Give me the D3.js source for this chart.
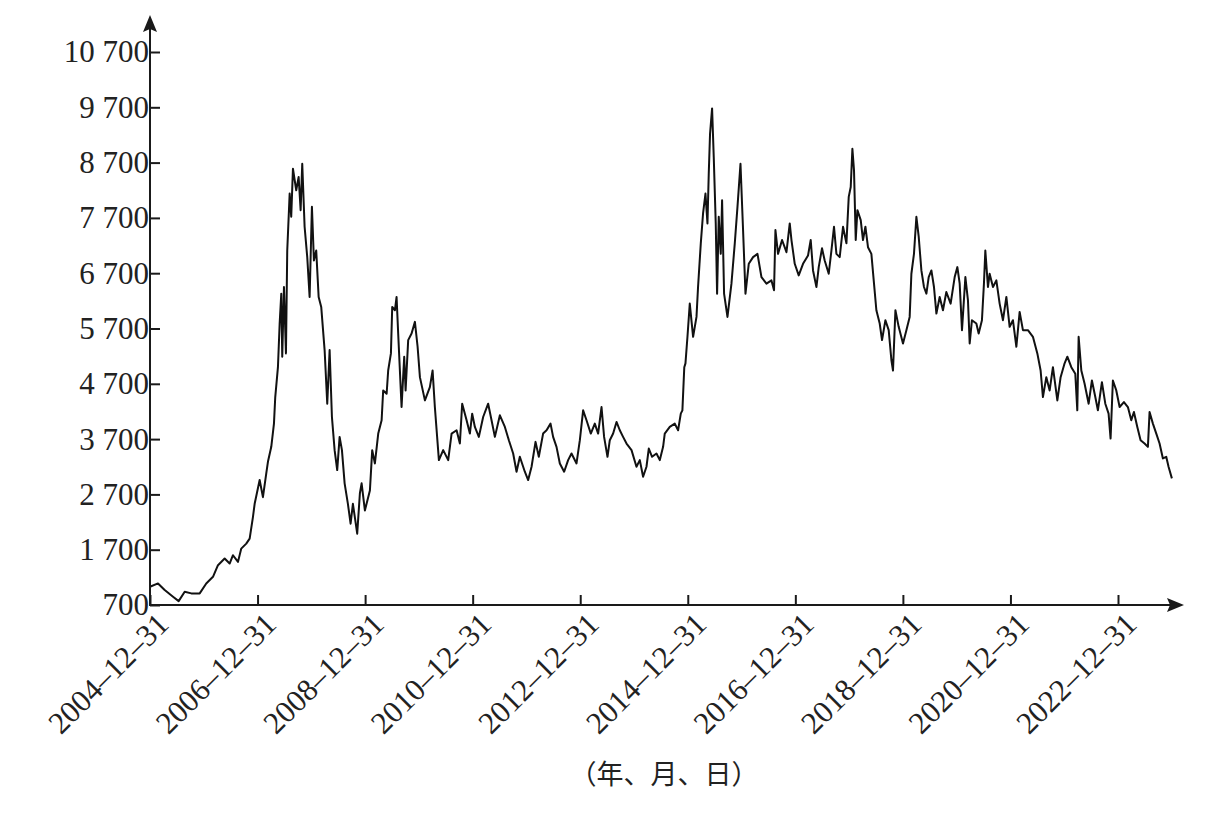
<html>
<script src='https://d3js.org/d3.v7.min.js'></script>
<style>
body {margin: 0; background: #fff;}
text {font-family: 'Liberation Serif', 'DejaVu Serif', serif; fill: #222;}
.title {font-family: 'Noto Sans CJK SC', sans-serif;}
</style>
<body onload='init()'>
<svg width=1212 height=814></svg>
<script>
// dates as decimal years
const dates = [
  2005.000,2005.149,2005.273,2005.428,2005.533,2005.645,2005.768,2005.924,2006.046,2006.171,
  2006.264,2006.388,2006.481,2006.543,2006.636,2006.697,2006.790,2006.853,2006.914,2006.946,
  2007.039,2007.100,2007.162,2007.193,2007.255,2007.305,2007.329,2007.379,2007.411,2007.441,
  2007.459,2007.491,2007.528,2007.552,2007.597,2007.626,2007.658,2007.719,2007.764,2007.801,
  2007.831,2007.875,2007.924,2007.968,2008.011,2008.048,2008.091,2008.136,2008.184,2008.247,
  2008.296,2008.340,2008.383,2008.433,2008.481,2008.526,2008.569,2008.619,2008.680,2008.730,
  2008.773,2008.853,2008.903,2008.935,2008.996,2009.089,2009.132,2009.182,2009.244,2009.307,
  2009.336,2009.400,2009.429,2009.480,2009.504,2009.554,2009.585,2009.615,2009.678,2009.727,
  2009.753,2009.801,2009.864,2009.926,2009.976,2010.019,2010.112,2010.204,2010.255,2010.297,
  2010.372,2010.452,2010.545,2010.608,2010.701,2010.762,2010.805,2010.887,2010.948,2010.991,
  2011.041,2011.115,2011.195,2011.288,2011.351,2011.413,2011.506,2011.599,2011.673,2011.753,
  2011.816,2011.877,2011.970,2012.032,2012.095,2012.169,2012.230,2012.310,2012.374,2012.448,
  2012.496,2012.559,2012.621,2012.701,2012.775,2012.838,2012.931,2012.993,2013.054,2013.117,
  2013.197,2013.271,2013.333,2013.396,2013.444,2013.507,2013.550,2013.612,2013.675,2013.736,
  2013.797,2013.861,2013.954,2014.046,2014.108,2014.169,2014.232,2014.275,2014.336,2014.418,
  2014.480,2014.541,2014.572,2014.665,2014.758,2014.820,2014.870,2014.900,2014.935,2014.957,
  2014.994,2015.037,2015.099,2015.162,2015.191,2015.242,2015.284,2015.329,2015.366,2015.390,
  2015.414,2015.452,2015.483,2015.520,2015.545,2015.576,2015.613,2015.638,2015.675,2015.738,
  2015.812,2015.874,2015.924,2015.980,2016.028,2016.073,2016.134,2016.214,2016.296,2016.370,
  2016.463,2016.556,2016.604,2016.630,2016.678,2016.753,2016.835,2016.896,2016.928,2016.989,
  2017.063,2017.143,2017.236,2017.286,2017.329,2017.392,2017.435,2017.496,2017.546,2017.621,
  2017.671,2017.719,2017.764,2017.825,2017.887,2017.950,2017.993,2018.030,2018.061,2018.091,
  2018.123,2018.154,2018.216,2018.258,2018.303,2018.351,2018.414,2018.463,2018.507,2018.569,
  2018.612,2018.675,2018.736,2018.786,2018.816,2018.861,2018.922,2019.002,2019.065,2019.126,
  2019.158,2019.206,2019.251,2019.294,2019.344,2019.392,2019.437,2019.480,2019.530,2019.578,
  2019.623,2019.684,2019.745,2019.808,2019.888,2019.963,2020.013,2020.056,2020.099,2020.162,
  2020.210,2020.242,2020.284,2020.366,2020.409,2020.470,2020.507,2020.533,2020.582,2020.613,
  2020.675,2020.738,2020.799,2020.861,2020.924,2020.985,2021.046,2021.110,2021.171,2021.232,
  2021.325,2021.418,2021.500,2021.561,2021.604,2021.667,2021.729,2021.790,2021.872,2021.933,
  2022.007,2022.058,2022.132,2022.206,2022.243,2022.268,2022.318,2022.379,2022.454,2022.515,
  2022.578,2022.626,2022.701,2022.764,2022.825,2022.862,2022.905,2022.968,2023.030,2023.110,
  2023.184,2023.247,2023.296,2023.359,2023.420,2023.494,2023.556,2023.587,2023.649,2023.712,
  2023.773,2023.835,2023.897,2023.940,2024.002
];
const values = [
  1030,1090,970,850,770,940,910,910,1090,1210,
  1420,1540,1450,1600,1480,1720,1810,1900,2290,2530,
  2960,2650,3080,3290,3560,3980,4460,5000,5790,6330,
  5190,6450,5250,7110,8140,7720,8590,8200,8440,7840,
  8680,7540,6990,6270,7900,6930,7110,6270,6090,5310,
  4340,5310,4100,3500,3140,3740,3500,2900,2530,2170,
  2530,1990,2720,2900,2410,2770,3500,3260,3800,4040,
  4580,4520,4940,5250,6090,6030,6270,5610,4280,5190,
  4580,5490,5610,5820,5370,4820,4400,4640,4940,4280,
  3320,3500,3320,3800,3860,3620,4340,4040,3800,4160,
  3920,3740,4100,4340,4040,3740,4130,3920,3680,3440,
  3110,3380,3110,2960,3200,3650,3380,3800,3860,3980,
  3740,3560,3260,3110,3320,3440,3260,3680,4220,4040,
  3800,3980,3800,4280,3740,3380,3680,3800,4010,3860,
  3740,3620,3500,3200,3320,3020,3200,3530,3380,3440,
  3320,3560,3800,3920,3980,3860,4160,4220,5000,5070,
  5550,6150,5550,5910,6450,7240,7780,8140,7600,8500,
  9220,9680,8800,7600,6330,7720,7050,8020,6330,5910,
  6510,7240,7900,8680,7480,6330,6870,6990,7050,6630,
  6510,6570,6390,7480,7050,7300,7080,7600,7300,6870,
  6660,6870,7020,7300,6750,6450,6810,7150,6930,6690,
  7110,7540,7050,6990,7540,7240,8080,8260,8950,8560,
  7300,7840,7660,7300,7540,7170,7050,6510,6030,5790,
  5490,5850,5670,5130,4940,6030,5730,5430,5670,5910,
  6690,7050,7720,7360,6750,6450,6330,6630,6750,6450,
  5970,6270,6030,6360,6150,6630,6810,6510,5670,6630,
  6210,5430,5850,5790,5610,5850,6510,7110,6450,6690,
  6450,6570,6150,5850,6270,5730,5850,5370,6000,5670,
  5670,5550,5250,4940,4460,4820,4580,5000,4400,4820,
  5070,5190,5000,4880,4220,5550,4940,4700,4340,4760,
  4460,4220,4730,4340,4160,3710,4760,4580,4280,4370,
  4280,4040,4190,3920,3680,3620,3560,4190,3980,3800,
  3620,3350,3380,3200,2990
];
const yTicks = [700, 1700, 2700, 3700, 4700, 5700, 6700, 7700, 8700, 9700, 10700];
const xTickYears = [2005, 2007, 2009, 2011, 2013, 2015, 2017, 2019, 2021, 2023];
const xTickLabels = ['2004–12–31', '2006–12–31', '2008–12–31', '2010–12–31', '2012–12–31',
                     '2014–12–31', '2016–12–31', '2018–12–31', '2020–12–31', '2022–12–31'];
const xTitle = '（年、月、日）';

function init() {
    const svg = d3.select('svg');
    const x = d3.scaleLinear().domain([2005, 2023]).range([150, 1118]);
    const y = d3.scaleLinear().domain([700, 10700]).range([605, 52]);
    const ink = '#1a1a1a';

    // price line
    const line = d3.line()
        .x((d, i) => x(dates[i]))
        .y(d => y(d));
    svg.append('path')
        .datum(values)
        .attr('d', line)
        .attr('fill', 'none')
        .attr('stroke', '#111')
        .attr('stroke-width', 2)
        .attr('stroke-linejoin', 'round');

    // y axis
    const gy = svg.append('g')
        .attr('transform', 'translate(150,0)')
        .call(d3.axisLeft(y).tickValues(yTicks)
            .tickFormat(d => d3.format(',')(d).replace(',', ' '))
            .tickSizeInner(-10).tickSizeOuter(0).tickPadding(1));
    gy.select('.domain').remove();
    gy.selectAll('line').attr('stroke', ink).attr('stroke-width', 2);
    gy.selectAll('text').attr('font-size', 31).attr('font-family', "'Liberation Serif', serif")
        .attr('fill', ink);

    // x axis
    const gx = svg.append('g')
        .attr('transform', 'translate(0,605)')
        .call(d3.axisBottom(x).tickValues(xTickYears)
            .tickFormat((d, i) => xTickLabels[i])
            .tickSizeInner(-10).tickSizeOuter(0));
    gx.select('.domain').remove();
    gx.selectAll('line').attr('stroke', ink).attr('stroke-width', 2);
    gx.selectAll('text')
        .attr('x', 0).attr('y', 0).attr('dy', 0)
        .attr('transform', 'translate(20,21) rotate(-45)')
        .attr('text-anchor', 'end')
        .attr('font-size', 31).attr('font-family', "'Liberation Serif', serif")
        .attr('fill', ink);

    // axis lines with arrows
    svg.append('line').attr('x1', 150).attr('y1', 606).attr('x2', 150).attr('y2', 28)
        .attr('stroke', ink).attr('stroke-width', 2);
    svg.append('line').attr('x1', 149).attr('y1', 605).attr('x2', 1172).attr('y2', 605)
        .attr('stroke', ink).attr('stroke-width', 2);
    svg.append('path').attr('d', 'M150,15 L157,32 L150,29 L143,32 Z').attr('fill', ink);
    svg.append('path').attr('d', 'M1184,605 L1167,598 L1170,605 L1167,612 Z').attr('fill', ink);

    // x axis title
    svg.append('text')
        .attr('class', 'title')
        .attr('x', 664).attr('y', 772)
        .attr('text-anchor', 'middle')
        .attr('dominant-baseline', 'central')
        .attr('font-size', 27)
        .attr('fill', ink)
        .style('font-family', "'Noto Sans CJK SC', sans-serif")
        .text(xTitle);
}
</script>
</body>
</html>
